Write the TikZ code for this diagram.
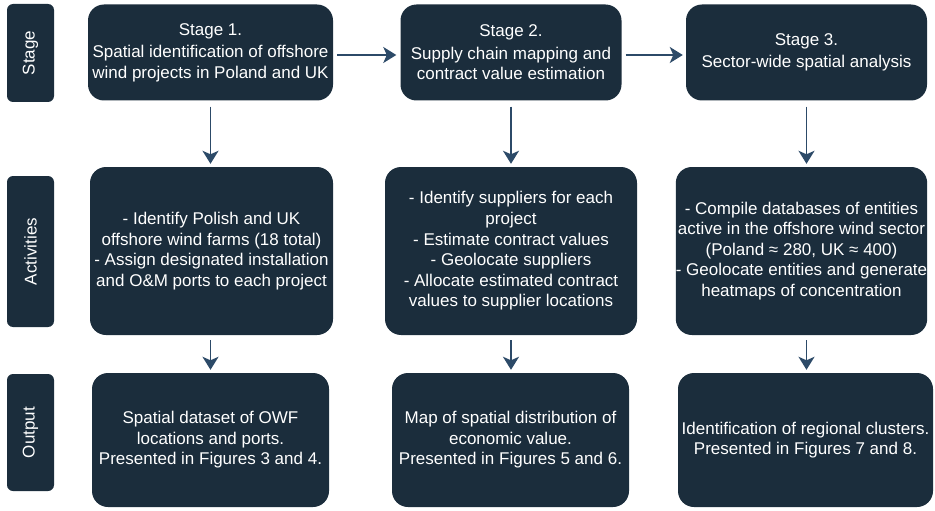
\documentclass[tikz,border=0pt]{standalone}
\usepackage{fontspec}
\setmainfont{Liberation Sans}
\usetikzlibrary{arrows.meta}
\definecolor{boxnavy}{HTML}{1B2D3C}
\definecolor{arrowblue}{HTML}{2C4A68}
\begin{document}
\begin{tikzpicture}[x=1pt,y=-1pt,
  stagebox/.style={fill=boxnavy,rounded corners=16pt,text=white,align=center,
    font=\fontsize{17}{20.6}\selectfont,inner sep=0pt},
  sidebox/.style={fill=boxnavy,rounded corners=6pt,text=white,rotate=90,
    font=\fontsize{17}{20}\selectfont,inner sep=0pt,minimum height=47pt},
  flow/.style={draw=arrowblue,line width=1.8pt,-{Stealth[length=13pt,width=16pt,inset=3.5pt]}}]
\useasboundingbox (0,0) rectangle (935,511);
\node[sidebox,minimum width=98pt] (rstage) at (30.5,53) {Stage};
\node[sidebox,minimum width=151pt] (ract) at (30.5,251.5) {Activities};
\node[sidebox,minimum width=117pt] (rout) at (30.5,432.5) {Output};
\node[stagebox,minimum width=245pt,minimum height=96pt] (s1) at (210.5,52.5)
  {Stage 1.\\[2pt]Spatial identification of offshore\\wind projects in Poland and UK};
\node[stagebox,minimum width=221pt,minimum height=96pt] (s2) at (511,52.5)
  {Stage 2.\\[2pt]Supply chain mapping and\\contract value estimation};
\node[stagebox,minimum width=241pt,minimum height=96pt] (s3) at (806.5,52.5)
  {Stage 3.\\[2pt]Sector-wide spatial analysis};
\node[stagebox,minimum width=243pt,minimum height=168pt] (a1) at (211.5,251)
  {- Identify Polish and UK\\offshore wind farms (18 total)\\- Assign designated installation\\and O\&M ports to each project};
\node[stagebox,minimum width=252pt,minimum height=168pt] (a2) at (511,251)
  {- Identify suppliers for each\\project\\- Estimate contract values\\- Geolocate suppliers\\- Allocate estimated contract\\values to supplier locations};
\node[stagebox,minimum width=247pt,minimum height=168pt] (a3) at (801.5,251)
  {- Compile databases of entities\\active in the offshore wind sector\\(Poland ≈ 280, UK ≈ 400)\\- Geolocate entities and generate\\heatmaps of concentration};
\node[stagebox,minimum width=237pt,minimum height=134pt] (o1) at (210.5,440)
  {Spatial dataset of OWF\\locations and ports.\\Presented in Figures 3 and 4.};
\node[stagebox,minimum width=237pt,minimum height=134pt] (o2) at (510.5,440)
  {Map of spatial distribution of\\economic value.\\Presented in Figures 5 and 6.};
\node[stagebox,minimum width=255pt,minimum height=134pt] (o3) at (805.5,440)
  {Identification of regional clusters.\\Presented in Figures 7 and 8.};
\draw[flow,shorten <=4pt,shorten >=4pt] ([yshift=-2.5pt]s1.east) -- ([yshift=-2.5pt]s1.east -| s2.west);
\draw[flow,shorten <=4pt,shorten >=3pt] ([yshift=-2.5pt]s2.east) -- ([yshift=-2.5pt]s2.east -| s3.west);
\foreach \s/\a/\o in {s1/a1/o1,s2/a2/o2,s3/a3/o3}{
  \draw[flow,shorten <=6pt,shorten >=3pt] (\s.south) -- (\s.south |- \a.north);
  \draw[flow,shorten <=5pt,shorten >=3pt] (\s.south |- \a.south) -- (\s.south |- \o.north);
}
\end{tikzpicture}
\end{document}
